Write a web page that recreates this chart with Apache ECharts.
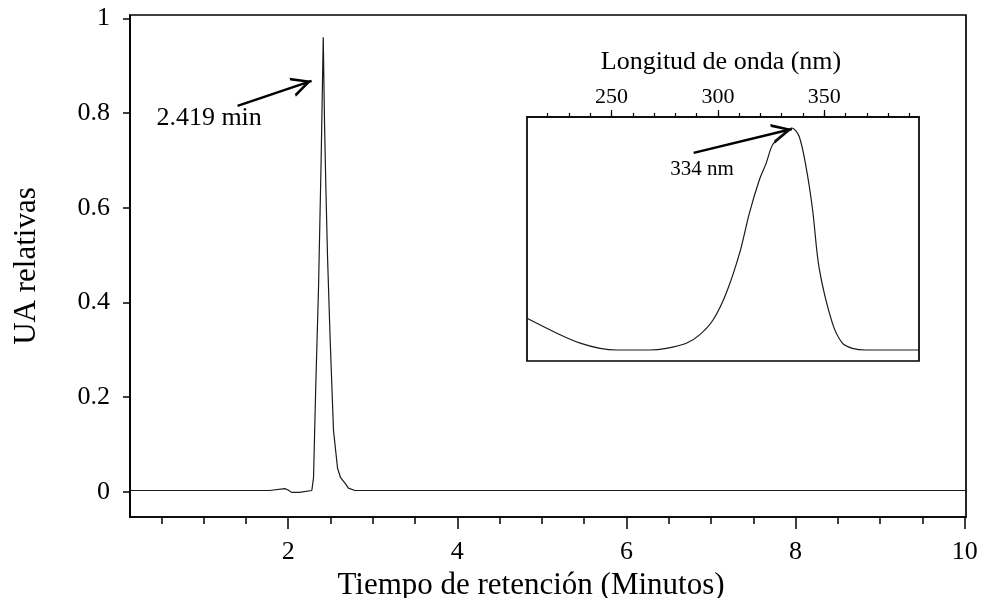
<!DOCTYPE html>
<html>
<head>
<meta charset="utf-8">
<script src="https://cdn.jsdelivr.net/npm/echarts@6/dist/echarts.min.js"></script>
<style>
  html, body { margin: 0; padding: 0; background: #fff; }
  #chart { width: 986px; height: 598px; }
</style>
</head>
<body>
<div id="chart"></div>
<script>
// cromatograma: tiempo (min) vs UA relativas
const tiempo = [0.13, 1.78, 1.79, 1.96, 2.0, 2.04, 2.13, 2.14, 2.28, 2.30, 2.326, 2.359, 2.39, 2.415,
  2.43, 2.445, 2.465, 2.497, 2.536, 2.545, 2.584, 2.62, 2.674, 2.713, 2.73, 2.79, 10.015];
const uaRel = [0.003, 0.003, 0.007, 0.007, 0.004, -0.001, -0.001, 0.002, 0.003, 0.03, 0.22, 0.43, 0.70, 0.96,
  0.78, 0.65, 0.50, 0.32, 0.13, 0.115, 0.05, 0.03, 0.018, 0.008, 0.005, 0.003, 0.003];

// espectro UV del pico (recuadro)
const longOnda = [210.3, 224.3, 235.3, 244.6, 252.4, 268.0, 275.8, 285.2, 291.4, 297.7, 303.9, 310.2, 314.8,
  319.5, 322.7, 325.7, 330.4, 334.8, 338.2, 341.4, 344.5, 347.6, 353.8, 358.5, 363.2, 369.5, 394.5];
const absEsp = [0.175, 0.114, 0.073, 0.052, 0.045, 0.045, 0.052, 0.073, 0.107, 0.168, 0.278, 0.442, 0.606,
  0.743, 0.811, 0.886, 0.927, 0.955, 0.920, 0.797, 0.620, 0.38, 0.155, 0.073, 0.052, 0.045, 0.045];

// ticks
const xMinor = [0.5, 1, 1.5, 2, 2.5, 3, 3.5, 4, 4.5, 5, 5.5, 6, 6.5, 7, 7.5, 8, 8.5, 9, 9.5, 10];
const xMajor = [2, 4, 6, 8, 10];
const yTicks = [0, 0.2, 0.4, 0.6, 0.8, 1];
const nmMinor = [220, 230, 240, 250, 260, 270, 280, 290, 300, 310, 320, 330, 340, 350, 360, 370, 380, 390];
const nmMajor = [250, 300, 350];

// anotaciones (coordenadas de datos)
const flechaPico = [[1.402, 0.815], [2.277, 0.868]];
const textoPico = [0.436, 0.789];
const flechaEsp = [[288.6, 0.853], [334.8, 0.951]];
const textoEsp = [277.4, 0.784];

const FONT = "Liberation Serif";
const BLACK = "#000";
// open arrowhead (tip at center of the bbox)
const chevron = "path://M10,-18 L10,-18 M10,0 L20,18 L17,18 L10,5 L3,18 L0,18 Z";

let myChart = echarts.init(document.getElementById("chart"), null, { renderer: "canvas" });

function pares(xs, ys) {
  return xs.map((x, i) => [x, ys[i]]);
}

myChart.setOption({
  animation: false,
  backgroundColor: "#fff",
  textStyle: { fontFamily: FONT, color: BLACK },
  grid: [
    { left: 130, top: 15, width: 836, height: 502, outerBoundsMode: "none", show: true, borderColor: BLACK, borderWidth: 1.7 },
    { left: 527, top: 117, width: 392, height: 244, outerBoundsMode: "none", show: true, borderColor: BLACK, borderWidth: 1.7, backgroundColor: "#fff" },
  ],
  xAxis: [
    {
      gridIndex: 0, type: "value", position: "bottom", min: 0.13, max: 10.015,
      axisLine: { onZero: false, lineStyle: { color: BLACK, width: 1.7 } },
      axisTick: { customValues: xMinor, length: 7, lineStyle: { color: BLACK, width: 1.5 } },
      axisLabel: { show: false },
      splitLine: { show: false },
    },
    {
      gridIndex: 0, type: "value", position: "bottom", min: 0.13, max: 10.015,
      axisLine: { show: false, onZero: false },
      axisTick: { customValues: xMajor, length: 12, lineStyle: { color: BLACK, width: 1.5 } },
      axisLabel: { customValues: xMajor, fontSize: 26, margin: 22, color: BLACK, fontFamily: FONT },
      splitLine: { show: false },
      name: "Tiempo de retención (Minutos)",
      nameLocation: "middle",
      nameGap: 51,
      nameTextStyle: { fontSize: 31, color: BLACK, fontFamily: FONT, padding: [0, 34, 0, 0] },
    },
    {
      gridIndex: 1, type: "value", position: "top", min: 210.3, max: 394.5,
      axisLine: { onZero: false, lineStyle: { color: BLACK, width: 1.7 } },
      axisTick: { customValues: nmMinor, length: 4, lineStyle: { color: BLACK, width: 1.2 } },
      axisLabel: { show: false },
      splitLine: { show: false },
    },
    {
      gridIndex: 1, type: "value", position: "top", min: 210.3, max: 394.5,
      axisLine: { show: false, onZero: false },
      axisTick: { customValues: nmMajor, length: 7, lineStyle: { color: BLACK, width: 1.2 } },
      axisLabel: { customValues: nmMajor, fontSize: 22, margin: 9, color: BLACK, fontFamily: FONT },
      splitLine: { show: false },
      name: "Longitud de onda (nm)",
      nameLocation: "middle",
      nameGap: 42,
      nameTextStyle: { fontSize: 26, color: BLACK, fontFamily: FONT, padding: [0, 4, 0, 0] },
    },
  ],
  yAxis: [
    {
      gridIndex: 0, type: "value", min: -0.053, max: 1.007,
      axisLine: { onZero: false, lineStyle: { color: BLACK, width: 1.7 } },
      axisTick: { customValues: yTicks, length: 7, lineStyle: { color: BLACK, width: 1.5 } },
      axisLabel: { customValues: yTicks, fontSize: 26, margin: 20, color: BLACK, fontFamily: FONT },
      splitLine: { show: false },
      name: "UA relativas",
      nameLocation: "middle",
      nameGap: 88,
      nameTextStyle: { fontSize: 31, color: BLACK, fontFamily: FONT },
    },
    { gridIndex: 1, type: "value", min: 0, max: 1, show: false },
  ],
  series: [
    {
      name: "cromatograma",
      type: "line",
      xAxisIndex: 0,
      yAxisIndex: 0,
      data: pares(tiempo, uaRel),
      showSymbol: false,
      lineStyle: { color: "#1a1a1a", width: 1.2 },
      silent: true,
      markLine: {
        silent: true,
        symbol: ["none", chevron],
        symbolSize: [20, 40],
        lineStyle: { color: BLACK, width: 2.5, type: "solid" },
        label: { show: false },
        data: [[{ coord: flechaPico[0] }, { coord: flechaPico[1] }]],
      },
      markPoint: {
        silent: true,
        symbol: "circle",
        symbolSize: 1,
        itemStyle: { color: "rgba(0,0,0,0)" },
        label: { show: true, position: "right", distance: 0, formatter: "2.419 min", fontSize: 26, color: BLACK, fontFamily: FONT },
        data: [{ coord: textoPico }],
      },
    },
    {
      name: "espectro",
      type: "line",
      xAxisIndex: 3,
      yAxisIndex: 1,
      data: pares(longOnda, absEsp),
      showSymbol: false,
      smooth: 0.3,
      lineStyle: { color: "#1a1a1a", width: 1.2 },
      silent: true,
      z: 5,
      markLine: {
        silent: true,
        symbol: ["none", chevron],
        symbolSize: [20, 40],
        lineStyle: { color: BLACK, width: 2.5, type: "solid" },
        label: { show: false },
        data: [[{ coord: flechaEsp[0] }, { coord: flechaEsp[1] }]],
      },
      markPoint: {
        silent: true,
        symbol: "circle",
        symbolSize: 1,
        itemStyle: { color: "rgba(0,0,0,0)" },
        label: { show: true, position: "right", distance: 0, formatter: "334 nm", fontSize: 21, color: BLACK, fontFamily: FONT },
        data: [{ coord: textoEsp }],
      },
    },
  ],
});
</script>
</body>
</html>
